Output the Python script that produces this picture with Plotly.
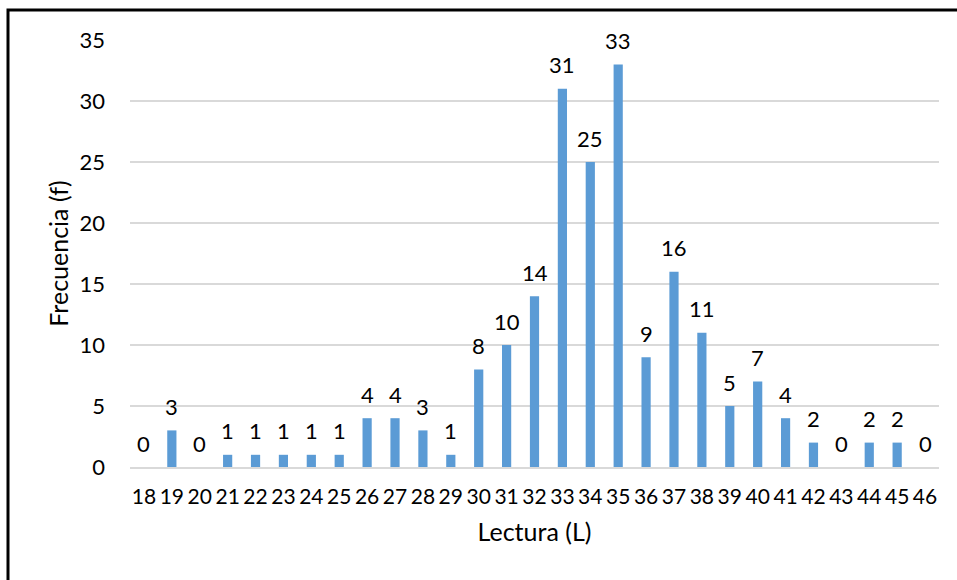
import plotly.graph_objects as go

categories = [str(v) for v in range(18, 47)]
frecuencia = [0, 3, 0, 1, 1, 1, 1, 1, 4, 4, 3, 1, 8, 10, 14, 31, 25, 33, 9, 16, 11, 5, 7, 4, 2, 0, 2, 2, 0]
y_ticks = [0, 5, 10, 15, 20, 25, 30, 35]

W, H = 957, 580
ML, MR, MT, MB = 130, 18, 40, 113
PW, PH = W - ML - MR, H - MT - MB

def px_x(p):
    return (p - ML) / PW

def px_y(p):
    return (H - MB - p) / PH

FONT = "Lato"
TXT = "#000000"

fig = go.Figure()
fig.add_trace(go.Bar(
    x=categories,
    y=frecuencia,
    marker=dict(color="#5b9bd5", line=dict(width=0)),
    width=0.33,
    hoverinfo="x+y",
))

annotations = [
    dict(x=i, y=v, xref="x", yref="y", text=str(v), showarrow=False,
         yanchor="middle", xanchor="center", yshift=24,
         font=dict(family=FONT, size=22, color=TXT))
    for i, v in enumerate(frecuencia)
]

fig.update_layout(
    width=W, height=H,
    margin=dict(l=ML, r=MR, t=MT, b=MB),
    paper_bgcolor="white",
    plot_bgcolor="white",
    showlegend=False,
    font=dict(family=FONT, size=21, color=TXT),
    annotations=annotations,
    xaxis=dict(
        type="category",
        tickmode="array",
        tickvals=categories,
        ticktext=categories,
        range=[-0.5, len(categories) - 0.5],
        showgrid=False,
        showline=True,
        linecolor="#d9d9d9",
        linewidth=2,
        ticks="",
        tickfont=dict(family=FONT, size=21, color=TXT),
        tickangle=0,
        ticklabelstandoff=10,
        title=dict(text="Lectura (L)", font=dict(family=FONT, size=25, color=TXT), standoff=16),
    ),
    yaxis=dict(
        range=[0, 35],
        tickvals=y_ticks,
        showgrid=True,
        gridcolor="#d9d9d9",
        gridwidth=2,
        zeroline=False,
        showline=False,
        ticks="",
        ticklabelstandoff=24,
        tickfont=dict(family=FONT, size=22, color=TXT),
        title=dict(text="Frecuencia (f)", font=dict(family=FONT, size=25, color=TXT), standoff=3),
    ),
    shapes=[dict(
        type="rect", xref="paper", yref="paper",
        x0=px_x(8), x1=px_x(975), y0=px_y(600), y1=px_y(10),
        line=dict(color="black", width=3), fillcolor="rgba(0,0,0,0)",
        layer="above",
    )],
)

fig.write_html("out.html")
